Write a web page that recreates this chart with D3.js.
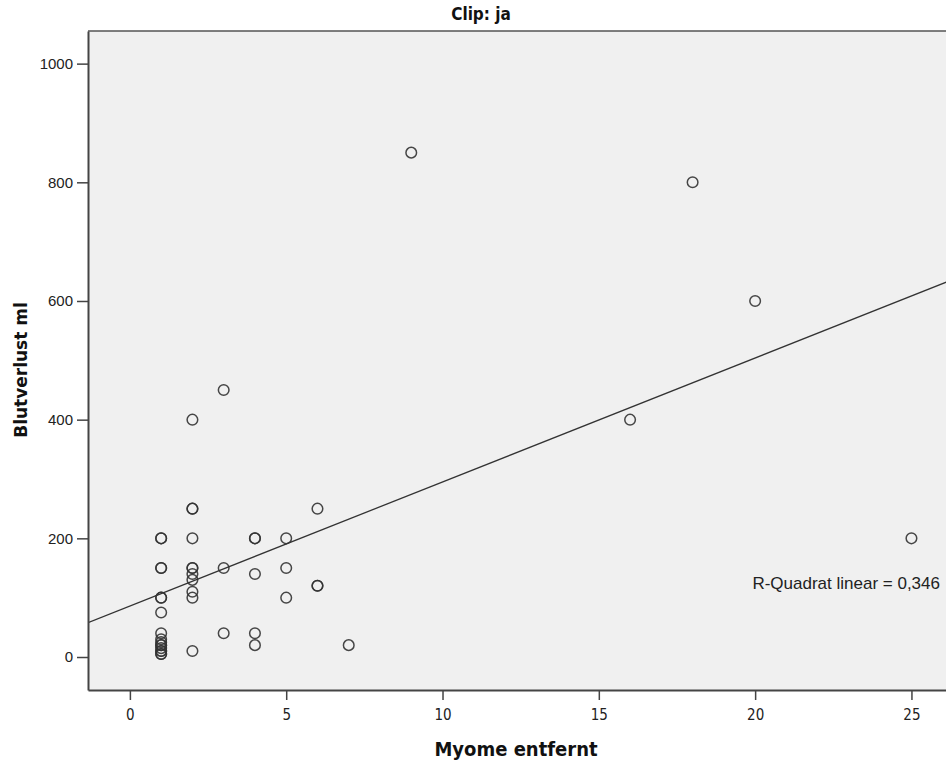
<!DOCTYPE html>
<html>
<head>
<meta charset="utf-8">
<script src="https://cdn.jsdelivr.net/npm/d3@7"></script>
<style>
  body { margin: 0; background: #fff; overflow: hidden; }
</style>
</head>
<body>
<script>
// data (x = Myome entfernt, y = Blutverlust ml)
var myome = [1,1,1,1,1,1,1,1,1,1,1,1,1,1,1,1,1,
             2,2,2,2,2,2,2,2,2,2,2,
             3,3,3,
             4,4,4,4,4,
             5,5,5,
             6,6,6,
             7,9,16,18,20,25];
var blut  = [200,200,150,150,100,100,75,40,30,25,20,20,15,10,10,5,5,
             400,250,250,200,150,150,140,130,110,100,10,
             450,150,40,
             200,200,140,40,20,
             200,150,100,
             250,120,120,
             20,850,400,800,600,200];
var xTicks = [0,5,10,15,20,25];
var yTicks = [0,200,400,600,800,1000];
var fitLine = [86, 20.9]; // intercept, slope of the linear fit
var rsqLabel = "R-Quadrat linear = 0,346";
var title = "Clip: ja";

var W = 946, H = 765;
var narrow = "Liberation Sans Narrow, DejaVu Sans Condensed, Arial, sans-serif";
var svg = d3.select("body").append("svg")
    .attr("width", W)
    .attr("height", H);

var x = d3.scaleLinear().domain([-1.34, 27.34]).range([88, 984.6]);
var y = d3.scaleLinear().domain([-55.6, 1055]).range([690, 31]);

// plot background
svg.append("rect")
    .attr("x", x(-1.34)).attr("y", y(1055))
    .attr("width", x(27.34) - x(-1.34))
    .attr("height", y(-55.6) - y(1055))
    .attr("fill", "#f0f0f0");

svg.append("clipPath").attr("id", "plotclip")
  .append("rect")
    .attr("x", x(-1.34)).attr("y", y(1055))
    .attr("width", x(27.34) - x(-1.34))
    .attr("height", y(-55.6) - y(1055));

// fit line
var fx = [-1.34, 27.34];
svg.append("line")
    .attr("clip-path", "url(#plotclip)")
    .attr("x1", x(fx[0])).attr("y1", y(fitLine[0] + fitLine[1] * fx[0]))
    .attr("x2", x(fx[1])).attr("y2", y(fitLine[0] + fitLine[1] * fx[1]))
    .attr("stroke", "#333")
    .attr("stroke-width", 1.3);

// points
var pts = myome.map(function(d, i){ return [d, blut[i]]; });
svg.selectAll("circle.pt")
    .data(pts)
    .enter()
    .append("circle")
    .attr("class", "pt")
    .attr("cx", function(d){ return x(d[0]); })
    .attr("cy", function(d){ return y(d[1]); })
    .attr("r", 5.3)
    .attr("fill", "none")
    .attr("stroke", "#333")
    .attr("stroke-width", 1.5)
    .attr("stroke-opacity", 0.9);

// frame top
svg.append("line")
    .attr("x1", x(-1.34)).attr("x2", W).attr("y1", y(1055)).attr("y2", y(1055))
    .attr("stroke", "#555").attr("stroke-width", 1.5);

// axes
var yAxis = d3.axisLeft(y).tickValues(yTicks).tickFormat(d3.format("d"))
    .tickSize(11).tickSizeOuter(0).tickPadding(4);
var gy = svg.append("g")
    .attr("transform", "translate(" + x(-1.34) + ",0)")
    .call(yAxis);
gy.select(".domain").attr("stroke", "#444").attr("stroke-width", 2);
gy.selectAll(".tick line").attr("stroke", "#444").attr("stroke-width", 1.5);
gy.selectAll(".tick text")
    .attr("font-family", "Liberation Sans, Arial, sans-serif")
    .attr("font-size", 15)
    .attr("fill", "#222");

var xAxis = d3.axisBottom(x).tickValues(xTicks).tickSizeInner(10).tickSizeOuter(0).tickPadding(9);
var gx = svg.append("g")
    .attr("transform", "translate(0," + y(-55.6) + ")")
    .call(xAxis);
gx.select(".domain").attr("stroke", "#444").attr("stroke-width", 2);
gx.selectAll(".tick line").attr("stroke", "#444").attr("stroke-width", 1.5);
gx.selectAll(".tick text")
    .attr("font-family", narrow)
    .attr("font-size", 15)
    .attr("fill", "#222");

// texts
svg.append("text")
    .attr("x", 481).attr("y", 20)
    .attr("text-anchor", "middle")
    .attr("font-family", narrow)
    .attr("font-weight", "bold")
    .attr("font-size", 17)
    .attr("fill", "#111")
    .text(title);

svg.append("text")
    .attr("transform", "translate(27,370) rotate(-90)")
    .attr("text-anchor", "middle")
    .attr("font-family", "DejaVu Sans, Verdana, sans-serif")
    .attr("font-weight", "bold")
    .attr("font-size", 17)
    .attr("fill", "#111")
    .text("Blutverlust ml");

svg.append("text")
    .attr("x", 516).attr("y", 756)
    .attr("text-anchor", "middle")
    .attr("font-family", narrow)
    .attr("font-weight", "bold")
    .attr("font-size", 20)
    .attr("fill", "#111")
    .text("Myome entfernt");

svg.append("text")
    .attr("x", 940).attr("y", 589)
    .attr("text-anchor", "end")
    .attr("font-family", "Liberation Sans, Arial, sans-serif")
    .attr("font-size", 17)
    .attr("fill", "#222")
    .text(rsqLabel);
</script>
</body>
</html>
